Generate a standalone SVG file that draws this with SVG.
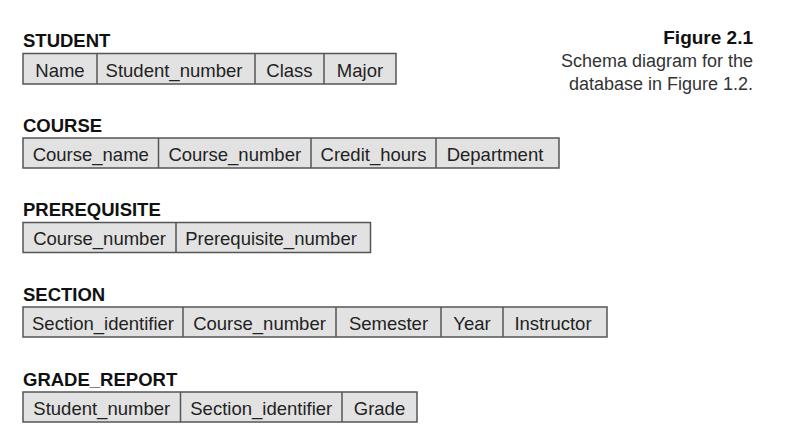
<svg xmlns="http://www.w3.org/2000/svg" width="790" height="438" viewBox="0 0 790 438">
<style>
  .cell { fill: #e2e2e2; stroke: #555; stroke-width: 1.5; }
  .div { stroke: #555; stroke-width: 1.5; }
  .title { font-family: "Liberation Sans", Arial, sans-serif; font-weight: bold; font-size: 18.5px; fill: #111; }
  .attr { font-family: "Liberation Sans", Arial, sans-serif; font-size: 18.5px; fill: #222; text-anchor: middle; }
  .cap { font-family: "Liberation Sans", Arial, sans-serif; font-size: 18px; fill: #333; text-anchor: end; }
  .capb { font-family: "Liberation Sans", Arial, sans-serif; font-size: 19px; font-weight: bold; fill: #111; text-anchor: end; }
</style>
<rect width="790" height="438" fill="#fff"/>
<g id="caption">
  <text class="capb" x="753" y="44">Figure 2.1</text>
  <text class="cap" x="753" y="67">Schema diagram for the</text>
  <text class="cap" x="753" y="90">database in Figure 1.2.</text>
</g>
<g id="student">
  <text class="title" x="23" y="47">STUDENT</text>
  <rect class="cell" x="23" y="53.5" width="373" height="30.5"/>
  <line class="div" x1="97" y1="53.5" x2="97" y2="84"/>
  <line class="div" x1="255" y1="53.5" x2="255" y2="84"/>
  <line class="div" x1="324" y1="53.5" x2="324" y2="84"/>
  <text class="attr" x="60" y="76.5">Name</text>
  <text class="attr" x="174" y="76.5">Student_number</text>
  <text class="attr" x="289.5" y="76.5">Class</text>
  <text class="attr" x="360" y="76.5">Major</text>
</g>
<g id="course">
  <text class="title" x="23" y="132">COURSE</text>
  <rect class="cell" x="23" y="138" width="536" height="30"/>
  <line class="div" x1="158.5" y1="138" x2="158.5" y2="168"/>
  <line class="div" x1="311" y1="138" x2="311" y2="168"/>
  <line class="div" x1="436" y1="138" x2="436" y2="168"/>
  <text class="attr" x="90.75" y="160.5">Course_name</text>
  <text class="attr" x="234.75" y="160.5">Course_number</text>
  <text class="attr" x="373.5" y="160.5">Credit_hours</text>
  <text class="attr" x="495" y="160.5">Department</text>
</g>
<g id="prerequisite">
  <text class="title" x="23" y="215.5">PREREQUISITE</text>
  <rect class="cell" x="23" y="222.5" width="347.5" height="30"/>
  <line class="div" x1="176" y1="222.5" x2="176" y2="252.5"/>
  <text class="attr" x="99.5" y="245">Course_number</text>
  <text class="attr" x="271" y="245">Prerequisite_number</text>
</g>
<g id="section">
  <text class="title" x="23" y="301">SECTION</text>
  <rect class="cell" x="23" y="307" width="584" height="30"/>
  <line class="div" x1="183" y1="307" x2="183" y2="337"/>
  <line class="div" x1="336" y1="307" x2="336" y2="337"/>
  <line class="div" x1="441" y1="307" x2="441" y2="337"/>
  <line class="div" x1="503" y1="307" x2="503" y2="337"/>
  <text class="attr" x="103" y="329.5">Section_identifier</text>
  <text class="attr" x="259.5" y="329.5">Course_number</text>
  <text class="attr" x="388.5" y="329.5">Semester</text>
  <text class="attr" x="472" y="329.5">Year</text>
  <text class="attr" x="553" y="329.5">Instructor</text>
</g>
<g id="grade_report">
  <text class="title" x="23" y="385.5">GRADE_REPORT</text>
  <rect class="cell" x="23" y="392" width="394" height="30"/>
  <line class="div" x1="180.5" y1="392" x2="180.5" y2="422"/>
  <line class="div" x1="342" y1="392" x2="342" y2="422"/>
  <text class="attr" x="101.75" y="414.5">Student_number</text>
  <text class="attr" x="261.25" y="414.5">Section_identifier</text>
  <text class="attr" x="379.5" y="414.5">Grade</text>
</g>
<g id="connectors"/>
</svg>
